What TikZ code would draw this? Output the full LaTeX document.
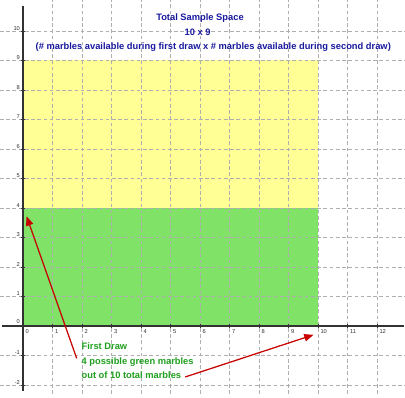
\documentclass[tikz,border=0pt]{standalone}
\usepackage{fontspec}
\setmainfont{Liberation Sans}
\usetikzlibrary{arrows.meta}
\definecolor{gridgray}{RGB}{175,175,175}
\definecolor{axisgray}{RGB}{50,50,50}
\definecolor{yellowfill}{RGB}{255,255,150}
\definecolor{greenfill}{RGB}{128,226,102}
\definecolor{titleblue}{RGB}{25,25,160}
\definecolor{textgreen}{RGB}{30,160,30}
\definecolor{arrowred}{RGB}{200,0,0}
\tikzset{
  gridline/.style={gridgray, dash pattern=on 3.5pt off 2.5pt, line width=0.6pt},
  axisline/.style={axisgray, line width=1.3pt},
  ticklabel/.style={font=\fontsize{5.5}{6}\selectfont, text=axisgray, inner sep=0pt},
  titletext/.style={font=\bfseries\fontsize{9}{10}\selectfont, text=titleblue, inner sep=0pt},
  notetext/.style={font=\bfseries\fontsize{9}{10}\selectfont, text=textgreen, inner sep=0pt, anchor=west},
  pointer/.style={arrowred, line width=1.2pt, -{Triangle[length=9pt,width=7pt]}}
}
\begin{document}
\begin{tikzpicture}[x=1cm,y=1cm]
\useasboundingbox[fill=white] (-0.78,-2.41) rectangle (12.95,11.05);
% regions
\fill[yellowfill] (0,0) rectangle (10,9);
\fill[greenfill] (0,0) rectangle (10,4);
% grid
\foreach \i in {1,...,12} \draw[gridline] (\i,-2.3) -- (\i,11.05);
\foreach \j in {-2,-1,1,2,...,10} \draw[gridline] (-0.78,\j) -- (12.95,\j);
% axes
\draw[axisline] (-0.72,0) -- (12.9,0);
\draw[axisline] (0,-2.2) -- (0,10.85);
% ticks
\foreach \i in {1,...,12} \draw[axisgray, line width=0.6pt] (\i,0.06) -- (\i,-0.08);
\foreach \j in {-2,-1,1,2,...,10} \draw[axisgray, line width=0.6pt] (-0.08,\j) -- (0.06,\j);
% tick labels
\foreach \i in {0,...,12} \node[ticklabel, anchor=north west] (xl\i) at (\i+0.08,-0.13) {\i};
\foreach \j in {-2,-1,1,2,...,10} \node[ticklabel, anchor=south east] (yl\j) at (-0.1,\j+0.02) {\j};
\node[ticklabel, anchor=south east] (yl0) at (-0.1,0.06) {0};
% title
\node[titletext] (t1) at (6.0,10.44) {Total Sample Space};
\node[titletext] (t2) at (5.92,9.94) {10 x 9};
\node[titletext] (t3) at (6.45,9.46) {(\# marbles available during first draw x \# marbles available during second draw)};
% notes
\node[notetext] (n1) at (1.98,-0.7) {First Draw};
\node[notetext] (n2) at (1.98,-1.24) {4 possible green marbles};
\node[notetext] (n3) at (1.98,-1.67) {out of 10 total marbles};
% arrows
\coordinate (a1s) at (1.82,-1.1);
\coordinate (a1e) at (0.12,3.72);
\coordinate (a2s) at (5.5,-1.73);
\coordinate (a2e) at (9.85,-0.3);
\draw[pointer] (a1s) -- (a1e);
\draw[pointer] (a2s) -- (a2e);
\end{tikzpicture}
\end{document}
